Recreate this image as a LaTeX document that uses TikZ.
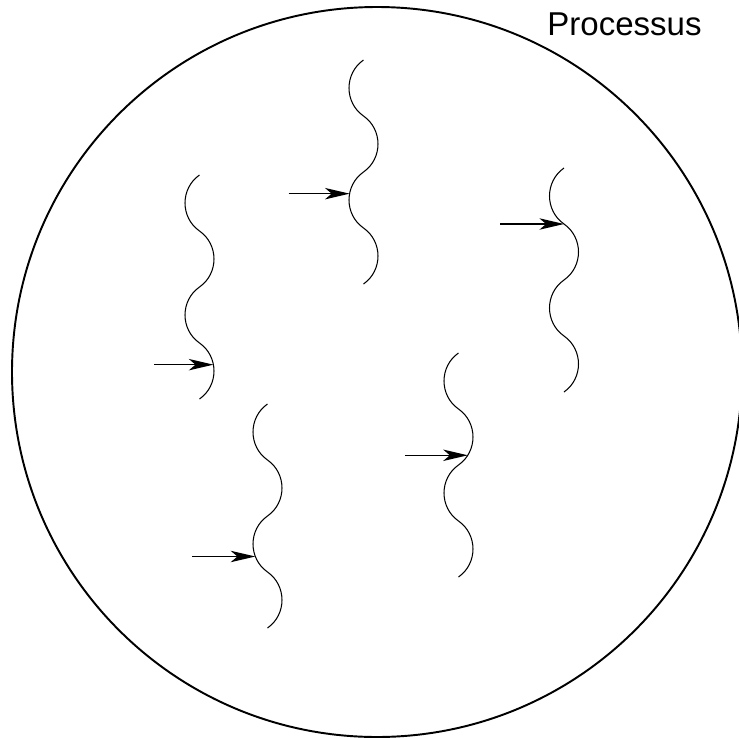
\documentclass[tikz,border=0pt]{standalone}
\usepackage{fontspec}
\setmainfont{Liberation Sans}
\usepackage{tikz}
\usetikzlibrary{arrows.meta}

\begin{document}
\begin{tikzpicture}[x=0.02cm, y=-0.02cm,
    wave/.style={line width=0.6pt},
    westlobe/.style={bend right=55, looseness=1.08},
    eastlobe/.style={bend left=55, looseness=1.08},
    arr/.style={-{Stealth[length=14pt, width=6.5pt, inset=3.8pt]}, line width=0.75pt}]
\useasboundingbox (0,0) rectangle (738,738);

% Process boundary
\draw[line width=1.1pt] (377,372) circle (365);
\node[font=\fontsize{18.8}{22}\selectfont, anchor=base] (title) at (624.5,35) {Processus};

% Threads (wavy lines), the tips of the arrows sit on them
\draw[wave] (363.5,60) to[westlobe] ++(0,56) to[eastlobe] ++(0,56)
    to[westlobe] coordinate[pos=0.4] (tip1) ++(0,56) to[eastlobe] ++(0,56);
\draw[wave] (199.5,175) to[westlobe] ++(0,56) to[eastlobe] ++(0,56)
    to[westlobe] ++(0,56) to[eastlobe] coordinate[pos=0.4] (tip2) ++(0,56);
\draw[wave] (564,168) to[westlobe] ++(0,56) coordinate (tip3) to[eastlobe] ++(0,56)
    to[westlobe] ++(0,56) to[eastlobe] ++(0,56);
\draw[wave] (267.5,404) to[westlobe] ++(0,56) to[eastlobe] ++(0,56)
    to[westlobe] coordinate[pos=0.7] (tip4) ++(0,56) to[eastlobe] ++(0,56);
\draw[wave] (458.5,353) to[westlobe] ++(0,56) to[eastlobe] coordinate[pos=0.8] (tip5) ++(0,56)
    to[westlobe] ++(0,56) to[eastlobe] ++(0,56);

% Free ends of the arrows
\path (tip1) ++(-61,0) coordinate (tail1);
\path (tip2) ++(-59,0) coordinate (tail2);
\path (tip3) ++(-64,0) coordinate (tail3);
\path (tip4) ++(-63,0) coordinate (tail4);
\path (tip5) ++(-63,0) coordinate (tail5);

% Instruction pointers
\draw[arr] (tail1) -- (tip1);
\draw[arr] (tail2) -- (tip2);
\draw[arr] (tail3) -- (tip3);
\draw[arr] (tail4) -- (tip4);
\draw[arr] (tail5) -- (tip5);
\end{tikzpicture}
\end{document}
